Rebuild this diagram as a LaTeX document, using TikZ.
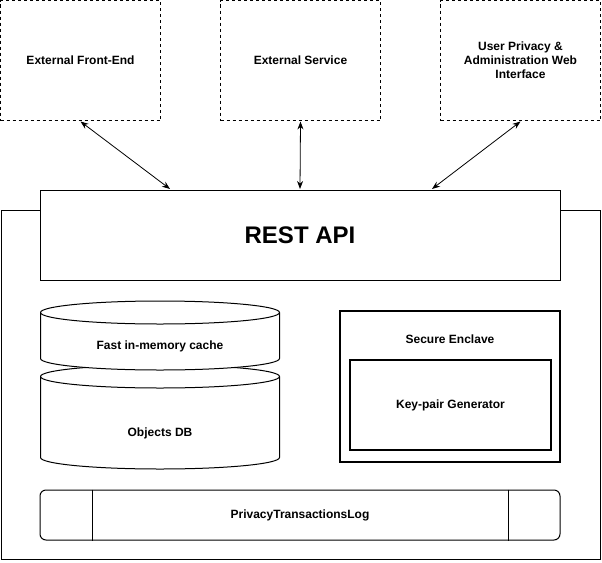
\documentclass[tikz,border=0pt]{standalone}
\usepackage{fontspec}
\setmainfont{Liberation Sans}
\usetikzlibrary{positioning, arrows.meta}

\begin{document}
\begin{tikzpicture}[
  x=1pt, y=-1pt, line width=1pt,
  font=\bfseries\fontsize{12}{14}\selectfont,
  ext/.style={draw, dash pattern=on 3pt off 3pt, minimum width=160pt,
    minimum height=120pt, align=center, inner sep=0pt},
  box/.style={draw, fill=white, inner sep=0pt, align=center},
  db/.style={draw, fill=white},
  link/.style={line width=0.8pt, {Stealth[length=8pt,width=6pt]}-{Stealth[length=8pt,width=6pt]}},
]
  \useasboundingbox (0,0) rectangle (602,562);

  % external clients
  \node[ext] (fe)  at (80.5,60.5)  {External Front-End};
  \node[ext] (svc) at (300.5,60.5) {External Service};
  \node[ext] (ui)  at (520.5,60.5) {User Privacy \&\\Administration Web\\Interface};

  % backend host
  \node[box, minimum width=599pt, minimum height=349pt] (host) at (300.5,385) {};
  \node[box, minimum width=520pt, minimum height=90pt,
    font=\bfseries\fontsize{24}{28}\selectfont] (api) at (300,235) {\raisebox{-2pt}{REST API}};

  \foreach \s/\dx in {fe/-130, svc/0, ui/132}
    \draw[link] ([yshift=-0.5pt]\s.south) -- ([xshift=\dx pt, yshift=0.5pt]api.north);

  % storage: objects db, cache on top
  \draw[db] (40.5,376.5) -- (40.5,457.5)
    arc[start angle=180, end angle=0, x radius=119.5, y radius=11.5]
    -- (279.5,376.5) arc[start angle=0, end angle=-180, x radius=119.5, y radius=11.5];
  \draw (40.5,376.5) arc[start angle=180, end angle=0, x radius=119.5, y radius=11.5];
  \node (objdb) at (160,433) {Objects DB};

  \draw[db] (40.5,312.5) -- (40.5,358.5)
    arc[start angle=180, end angle=0, x radius=119.5, y radius=11.5]
    -- (279.5,312.5) arc[start angle=0, end angle=-180, x radius=119.5, y radius=11.5];
  \draw (40.5,312.5) arc[start angle=180, end angle=0, x radius=119.5, y radius=11.5];
  \node (cache) at (160,346) {Fast in-memory cache};

  % enclave
  \node[box, line width=2pt, minimum width=220pt, minimum height=151pt] (enc) at (450,386) {};
  \node (enctitle) at (450,339) {Secure Enclave};
  \node[box, line width=2pt, minimum width=201pt, minimum height=90pt] (kpg) at (450.5,405) {Key-pair Generator};

  % log
  \node[box, rounded corners=6pt, minimum width=520pt, minimum height=50pt] (log) at (300,515) {PrivacyTransactionsLog};
  \draw ([xshift=53pt]log.north west) -- ([xshift=53pt]log.south west);
  \draw ([xshift=-52pt]log.north east) -- ([xshift=-52pt]log.south east);
\end{tikzpicture}
\end{document}
